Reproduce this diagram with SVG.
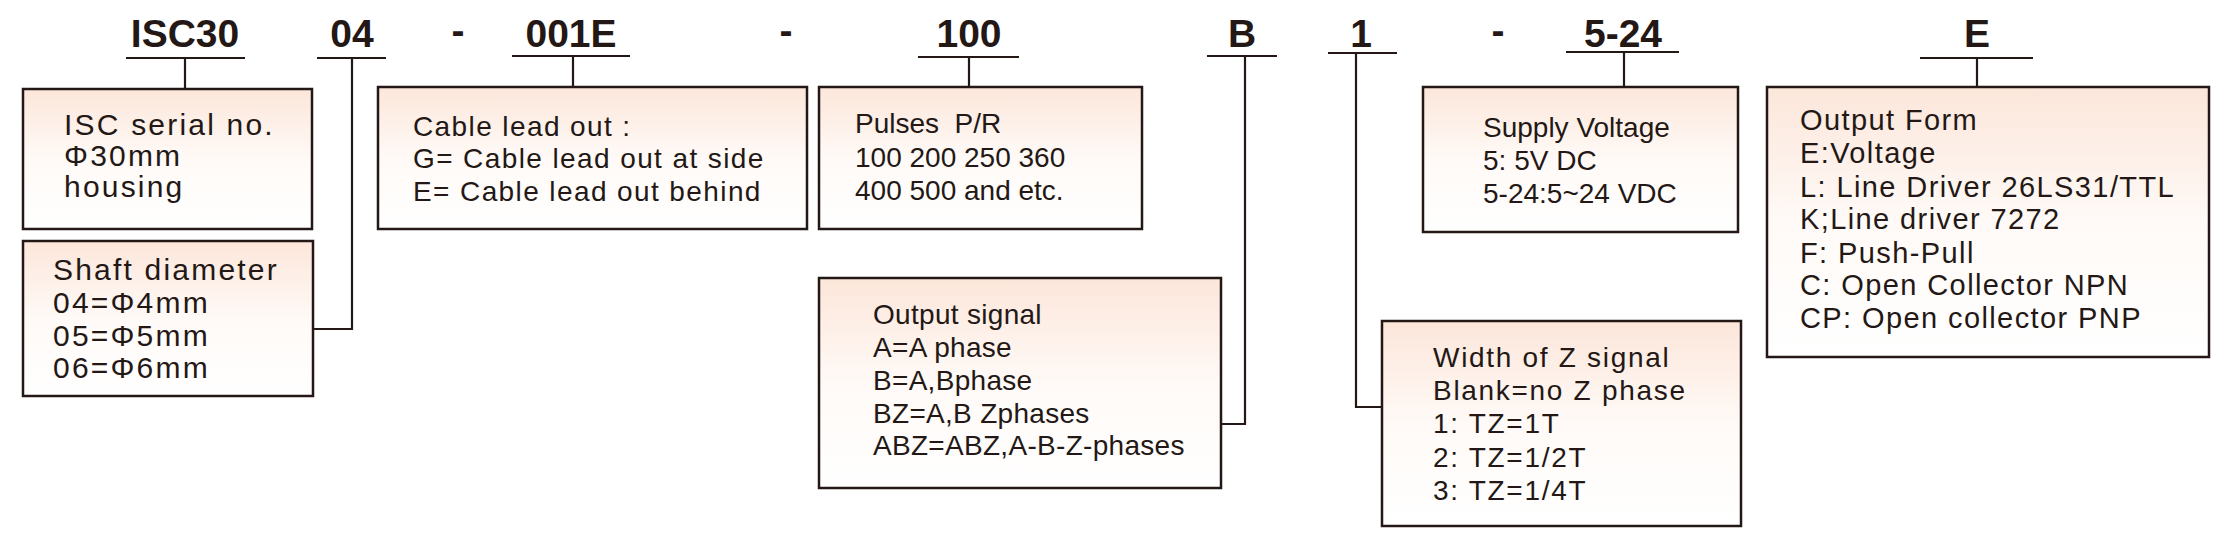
<svg xmlns="http://www.w3.org/2000/svg" width="2236" height="548" viewBox="0 0 2236 548">
<defs>
<linearGradient id="peach" x1="0" y1="0" x2="0" y2="1">
<stop offset="0" stop-color="#fce6da"/>
<stop offset="0.5" stop-color="#fffaf7"/>
<stop offset="1" stop-color="#ffffff"/>
</linearGradient>
<style>
.box{fill:url(#peach);stroke:#231815;stroke-width:2.5}
.ln{fill:none;stroke:#231815;stroke-width:2.2}
.t{font-family:"Liberation Sans",Arial,sans-serif;fill:#231815;white-space:pre}
.h{font-family:"Liberation Sans",Arial,sans-serif;font-weight:bold;font-size:39px;fill:#231815;text-anchor:middle}
.b12{font-size:30px;letter-spacing:2.2px}
.b3{font-size:28px;letter-spacing:1.4px}
.b4{font-size:28px}
.b5{font-size:28px;letter-spacing:0.3px}
.b6{font-size:28px}
.b7{font-size:28px;letter-spacing:1.7px}
.bE{font-size:29px;letter-spacing:1.4px}
</style>
</defs>
<rect width="2236" height="548" fill="#ffffff"/>

<g id="codes">
<text class="h" x="185" y="47">ISC30</text>
<text class="h" x="352" y="47">04</text>
<text class="h" x="458" y="44">-</text>
<text class="h" x="571" y="47">001E</text>
<text class="h" x="786" y="44">-</text>
<text class="h" x="969" y="47">100</text>
<text class="h" x="1242" y="47">B</text>
<text class="h" x="1361" y="47">1</text>
<text class="h" x="1498" y="44">-</text>
<text class="h" x="1623" y="47">5-24</text>
<text class="h" x="1977" y="47">E</text>
</g>

<g id="connectors">
<path class="ln" d="M126 58H245M185 58V89"/>
<path class="ln" d="M317 58H386M352 58V329H313"/>
<path class="ln" d="M512 56H630M573 56V87"/>
<path class="ln" d="M918 57H1019M969 57V87"/>
<path class="ln" d="M1207 56H1277M1245 56V424H1221"/>
<path class="ln" d="M1328 53H1397M1356 53V407H1382"/>
<path class="ln" d="M1566 52H1679M1624 52V87"/>
<path class="ln" d="M1920 58H2033M1977 58V87"/>
</g>

<g id="box-series">
<rect class="box" x="23" y="89" width="289" height="140"/>
<text class="t b12" x="64" y="135">ISC serial no.</text>
<text class="t b12" x="64" y="166">Φ30mm</text>
<text class="t b12" x="64" y="197">housing</text>
</g>

<g id="box-shaft">
<rect class="box" x="23" y="241" width="290" height="155"/>
<text class="t b12" x="53" y="280">Shaft diameter</text>
<text class="t b12" x="53" y="313">04=Φ4mm</text>
<text class="t b12" x="53" y="346">05=Φ5mm</text>
<text class="t b12" x="53" y="378">06=Φ6mm</text>
</g>

<g id="box-cable">
<rect class="box" x="378" y="87" width="429" height="142"/>
<text class="t b3" x="413" y="136">Cable lead out :</text>
<text class="t b3" x="413" y="168">G= Cable lead out at side</text>
<text class="t b3" x="413" y="201">E= Cable lead out behind</text>
</g>

<g id="box-pulses">
<rect class="box" x="819" y="87" width="323" height="142"/>
<text class="t b4" x="855" y="133">Pulses  P/R</text>
<text class="t b4" x="855" y="167">100 200 250 360</text>
<text class="t b4" x="855" y="200">400 500 and etc.</text>
</g>

<g id="box-output-signal">
<rect class="box" x="819" y="278" width="402" height="210"/>
<text class="t b5" x="873" y="324">Output signal</text>
<text class="t b5" x="873" y="357">A=A phase</text>
<text class="t b5" x="873" y="390">B=A,Bphase</text>
<text class="t b5" x="873" y="423">BZ=A,B Zphases</text>
<text class="t b5" x="873" y="455">ABZ=ABZ,A-B-Z-phases</text>
</g>

<g id="box-supply">
<rect class="box" x="1423" y="87" width="315" height="145"/>
<text class="t b6" x="1483" y="137">Supply Voltage</text>
<text class="t b6" x="1483" y="170">5: 5V DC</text>
<text class="t b6" x="1483" y="203">5-24:5~24 VDC</text>
</g>

<g id="box-zwidth">
<rect class="box" x="1382" y="321" width="359" height="205"/>
<text class="t b7" x="1433" y="367">Width of Z signal</text>
<text class="t b7" x="1433" y="400">Blank=no Z phase</text>
<text class="t b7" x="1433" y="433">1: TZ=1T</text>
<text class="t b7" x="1433" y="467">2: TZ=1/2T</text>
<text class="t b7" x="1433" y="500">3: TZ=1/4T</text>
</g>

<g id="box-output-form">
<rect class="box" x="1767" y="87" width="442" height="270"/>
<text class="t bE" x="1800" y="130">Output Form</text>
<text class="t bE" x="1800" y="163">E:Voltage</text>
<text class="t bE" x="1800" y="197">L: Line Driver 26LS31/TTL</text>
<text class="t bE" x="1800" y="229">K;Line driver 7272</text>
<text class="t bE" x="1800" y="263">F: Push-Pull</text>
<text class="t bE" x="1800" y="295">C: Open Collector NPN</text>
<text class="t bE" x="1800" y="328">CP: Open collector PNP</text>
</g>
</svg>
